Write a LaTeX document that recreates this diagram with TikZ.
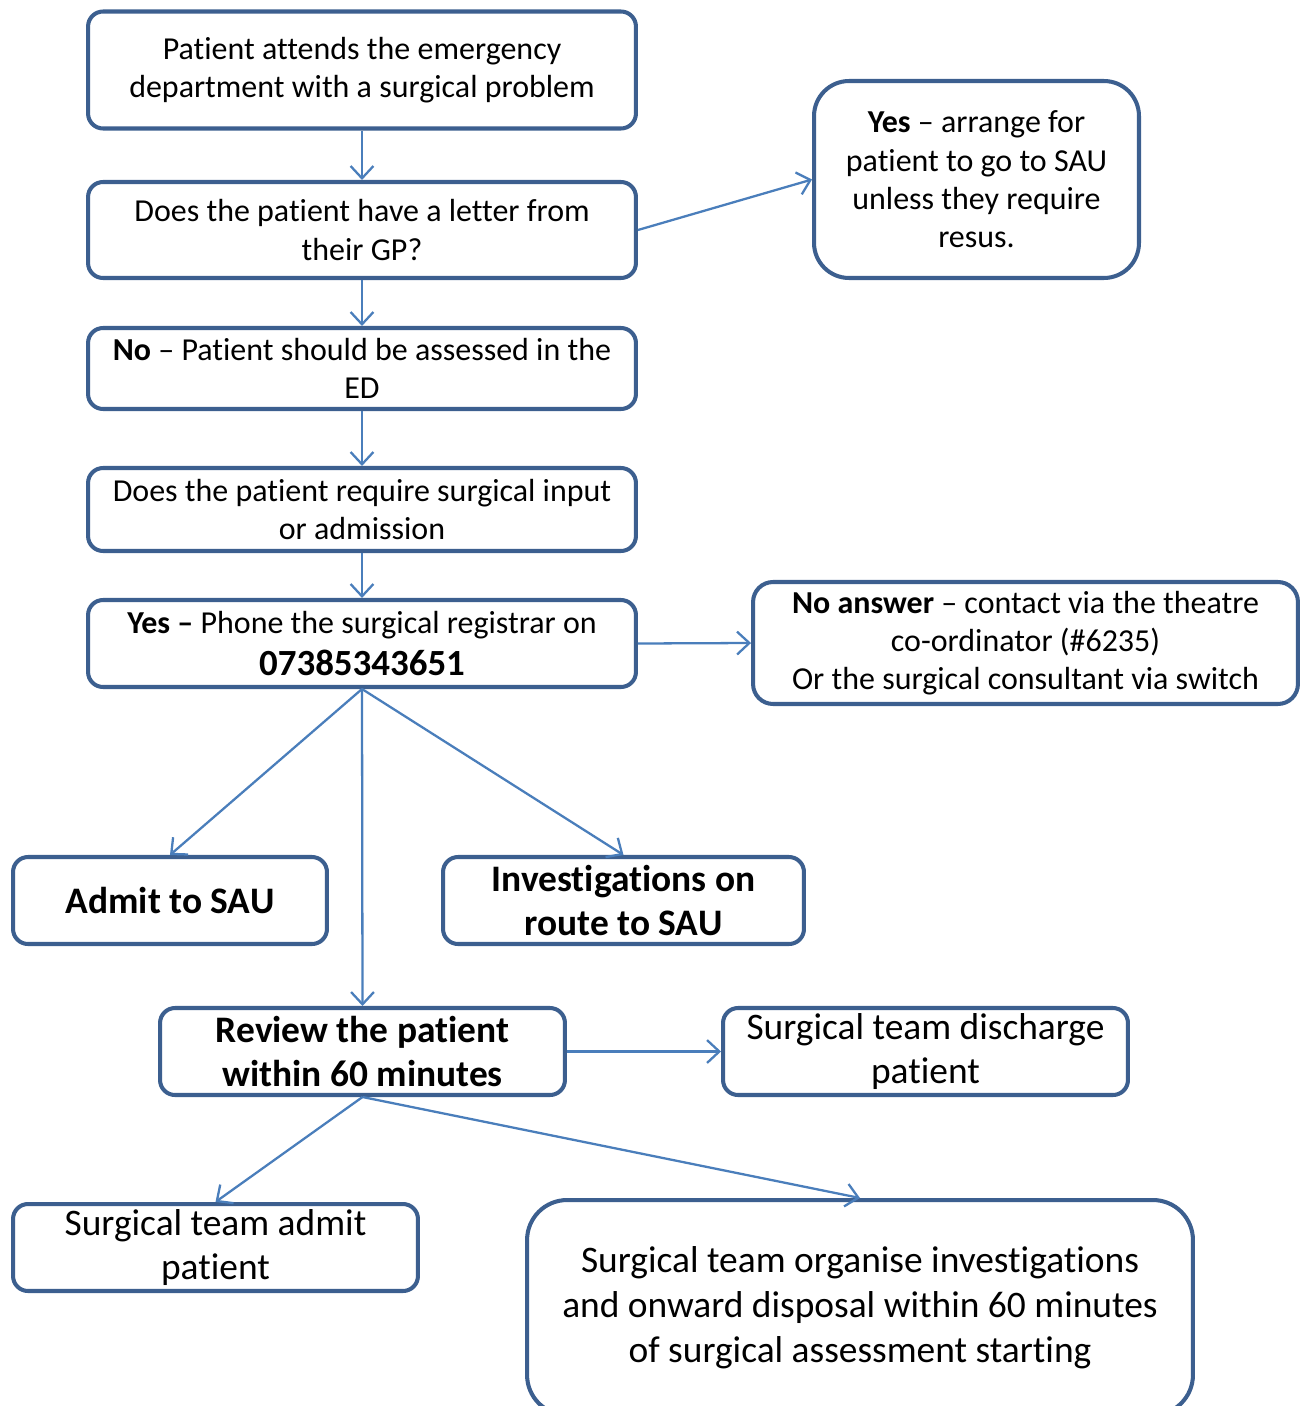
\documentclass[tikz,border=0pt]{standalone}
\usepackage{fontspec}
\setmainfont{Carlito}[Ligatures=NoCommon]
\usetikzlibrary{arrows.meta}
\definecolor{boxline}{HTML}{3C5F8F}
\definecolor{arrline}{HTML}{4A7EBB}
\newcommand{\normtext}{\fontsize{18.2}{21.8}\selectfont}
\newcommand{\bigtext}{\fontsize{21.3}{25.6}\selectfont}
\begin{document}
\begin{tikzpicture}[x=0.02cm,y=-0.02cm,
    box/.style={draw=boxline, line width=2.3pt, rounded corners=0.3cm, fill=white,
        align=center, inner sep=0pt, font=\normtext},
    arrow/.style={draw=arrline, line width=1.3pt, -{Straight Barb[length=7pt,width=13pt]}}]
    \useasboundingbox (0,0) rectangle (1309,1406);
    \clip (0,0) rectangle (1309,1406);
    \node[box, minimum width=10.96cm, minimum height=2.34cm] (attend) at (362,70)
        {\raisebox{-2pt}{}Patient attends the emergency\\department with a surgical problem};
    \node[box, minimum width=10.96cm, minimum height=1.92cm] (letter) at (362,230)
        {Does the patient have a letter from\\their GP?};
    \node[box, minimum width=6.5cm, minimum height=3.94cm, rounded corners=0.7cm] (yesgp) at (976.5,179.5)
        {\textbf{Yes} -- arrange for\\patient to go to SAU\\unless they require\\resus.};
    \node[box, minimum width=10.96cm, minimum height=1.62cm] (noletter) at (362,368.5)
        {\textbf{No} -- Patient should be assessed in the\\ED};
    \node[box, minimum width=10.96cm, minimum height=1.66cm] (require) at (362,509.5)
        {Does the patient require surgical input\\or admission};
    \node[box, minimum width=10.96cm, minimum height=1.74cm] (phone) at (362,643.5)
        {\textbf{Yes --} Phone the surgical registrar on\\[2.5pt]{\fontsize{21}{25}\selectfont\textbf{07385343651}}};
    \node[box, minimum width=10.9cm, minimum height=2.44cm, rounded corners=0.4cm] (noanswer) at (1025.5,643)
        {\textbf{No answer} -- contact via the theatre\\co-ordinator (\#6235)\\Or the surgical consultant via switch};
    \node[box, minimum width=6.28cm, minimum height=1.74cm, font=\bigtext\bfseries] (admitsau) at (170,900.5)
        {Admit to SAU};
    \node[box, minimum width=7.22cm, minimum height=1.74cm, font=\bigtext\bfseries] (investig) at (623.5,900.5)
        {Investigations on\\route to SAU};
    \node[box, minimum width=8.1cm, minimum height=1.74cm, font=\bigtext\bfseries] (review) at (362.5,1051.5)
        {Review the patient\\within 60 minutes};
    \node[box, minimum width=8.1cm, minimum height=1.74cm, font=\bigtext] (discharge) at (925.5,1051.5)
        {Surgical team discharge\\patient};
    \node[box, minimum width=8.1cm, minimum height=1.74cm, font=\bigtext] (admitpt) at (215.5,1247.5)
        {Surgical team admit\\patient};
    \node[box, minimum width=13.32cm, minimum height=4.3cm, rounded corners=0.8cm, font=\bigtext] (organise) at (860,1307.5)
        {Surgical team organise investigations\\and onward disposal within 60 minutes\\of surgical assessment starting};
    % connectors
    \draw[arrow] (attend) -- (letter);
    \draw[arrow] (letter.east) -- (yesgp.west);
    \draw[arrow] (letter) -- (noletter);
    \draw[arrow] (noletter) -- (require);
    \draw[arrow] (require) -- (phone);
    \draw[arrow] (phone.east) -- (noanswer.west);
    \draw[arrow] (phone.south) -- (admitsau.north);
    \draw[arrow] (phone.south) -- (investig.north);
    \draw[arrow] (phone.south) -- (review.north);
    \draw[arrow] (review.east) -- (discharge.west);
    \draw[arrow] (review.south) -- (admitpt.north);
    \draw[arrow] (review.south) -- (organise.north);
\end{tikzpicture}
\end{document}
